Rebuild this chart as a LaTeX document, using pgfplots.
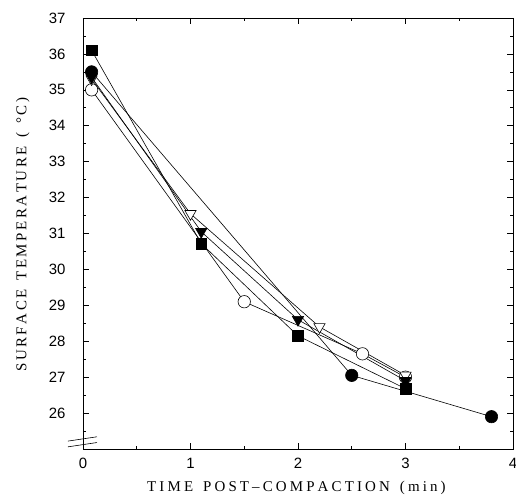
\documentclass[border=0pt]{standalone}
\usepackage{fontspec}
\setmainfont{Liberation Serif}
\setsansfont{Liberation Sans}
\usepackage{pgfplots}
\pgfplotsset{compat=1.18}
% spread the letters of a label a little, as in the original figure
\makeatletter
\def\spaced#1#2{\def\spaced@k{#1}\spaced@loop#2\@nil}
\def\spaced@loop#1{\ifx#1\@nil\else#1\kern\spaced@k\expandafter\spaced@loop\fi}
\makeatother
\begin{document}
\begin{tikzpicture}
\useasboundingbox (-83bp,-51bp) rectangle (433bp,449bp);
\begin{axis}[
  scale only axis, width=430bp, height=431bp,
  xmin=0, xmax=4, ymin=25, ymax=37,
  xtick={0,...,4}, ytick={26,...,37},
  minor xtick={0.5,1.5,2.5,3.5},
  minor ytick={25.5,26.5,...,36.5},
  tick align=inside,
  major tick length=6bp, minor tick length=3bp,
  every tick/.style={black, line width=0.6pt},
  axis line style={line width=0.7pt},
  tick label style={font=\sffamily\fontsize{15}{16}\selectfont},
  /pgf/number format/assume math mode=true,
  yticklabel style={anchor=east, xshift=-14bp},
  xticklabel style={anchor=center, yshift=-14bp},
  every axis x label/.style={at={(axis description cs:0.5,-0.09)}, anchor=center},
  every axis y label/.style={at={(axis description cs:-0.14,0.5)}, anchor=center, rotate=90},
  label style={font=\fontsize{15}{16}\selectfont},
  xlabel={\spaced{0.21em}{TIME~POST–COMPACTION~(min)}},
  ylabel={\spaced{0.17em}{SURFACE~TEMPERATURE~(~\textdegree C)}},
  clip=false,
  every axis plot/.append style={black, line width=0.6pt, mark options={solid}},
]
% filled circle
\addplot[mark=*, mark size=6.2bp] coordinates {(0.08,35.5) (2.5,27.05) (3.8,25.9)};
% open circle
\addplot[mark=*, mark size=6.2bp, mark options={fill=white}] coordinates {(0.08,35.0) (1.5,29.1) (2.6,27.65) (3.0,27.0)};
% open down triangle
\addplot[mark=triangle*, mark size=6.5bp, mark options={rotate=180, fill=white}] coordinates {(0.08,35.3) (1.0,31.55) (2.2,28.4) (3.0,27.05)};
% filled down triangle
\addplot[mark=triangle*, mark size=6.5bp, mark options={rotate=180}] coordinates {(0.08,35.35) (1.1,31.05) (2.0,28.6) (3.0,26.9)};
% filled square
\addplot[mark=square*, mark size=5.3bp] coordinates {(0.08,36.1) (1.1,30.72) (2.0,28.15) (3.0,26.68)};
% axis break
\draw[line width=0.6pt] (axis cs:-0.14,25.22) -- (axis cs:0.13,25.34);
\draw[line width=0.6pt] (axis cs:-0.14,25.06) -- (axis cs:0.13,25.18);
\end{axis}
\end{tikzpicture}
\end{document}
